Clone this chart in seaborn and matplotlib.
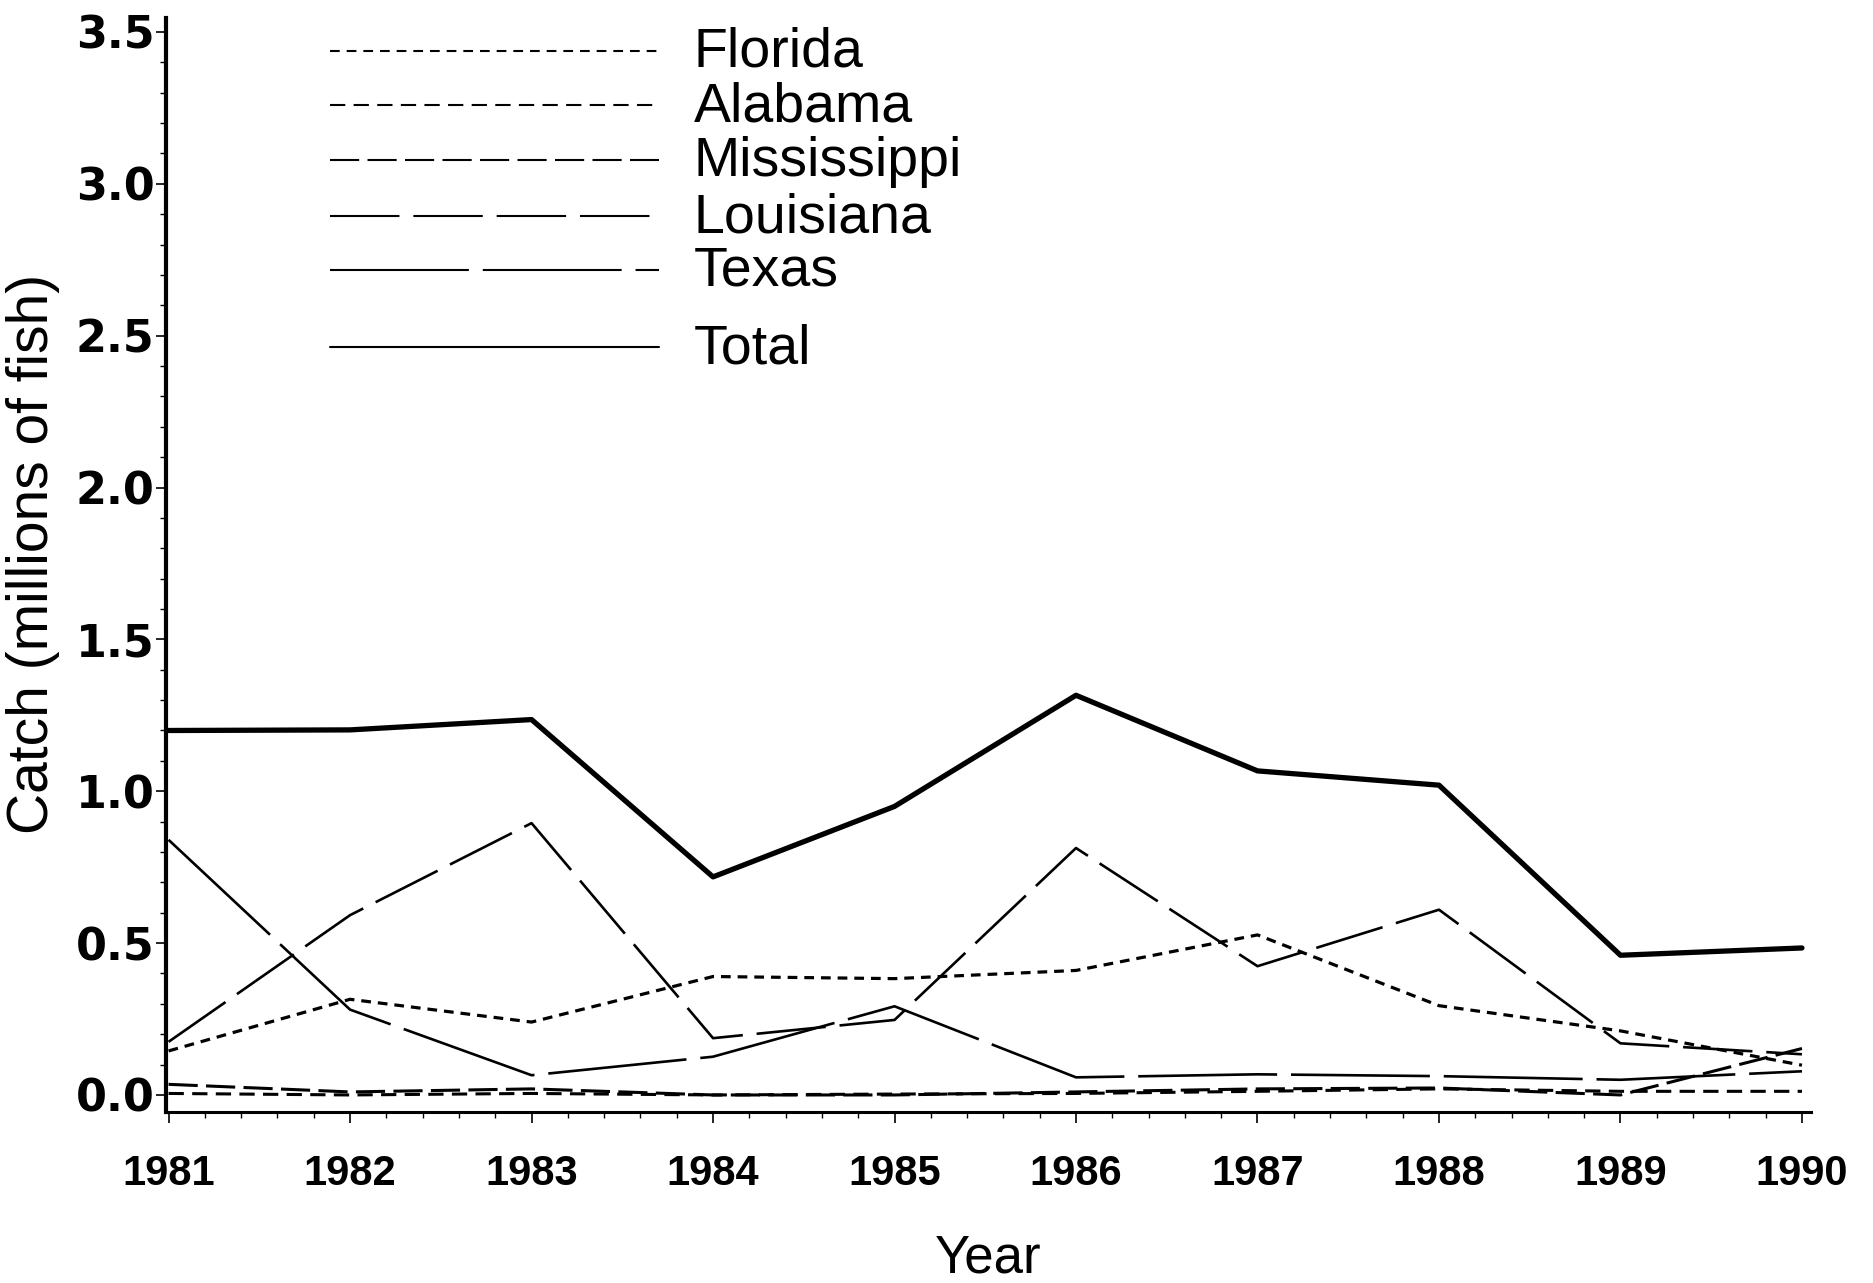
import seaborn as sns
import pandas as pd
import matplotlib.pyplot as plt
from matplotlib.ticker import MultipleLocator

# values (millions of fish)
years = [1981, 1982, 1983, 1984, 1985, 1986, 1987, 1988, 1989, 1990]
florida = [0.145, 0.315, 0.24, 0.39, 0.383, 0.41, 0.527, 0.294, 0.211, 0.098]
alabama = [0.005, 0.0, 0.005, 0.0, 0.003, 0.005, 0.012, 0.02, 0.012, 0.012]
mississippi = [0.035, 0.01, 0.02, 0.0, 0.0, 0.01, 0.02, 0.023, 0.0, 0.153]
louisiana = [0.175, 0.592, 0.895, 0.187, 0.247, 0.813, 0.424, 0.61, 0.17, 0.134]
texas = [0.84, 0.281, 0.065, 0.126, 0.292, 0.058, 0.068, 0.062, 0.05, 0.078]
total = [1.2, 1.202, 1.236, 0.718, 0.95, 1.316, 1.067, 1.02, 0.46, 0.484]

names = ["Florida", "Alabama", "Mississippi", "Louisiana", "Texas", "Total"]
series = [florida, alabama, mississippi, louisiana, texas, total]

# long-form table for seaborn
df = pd.concat([pd.DataFrame({"Year": years, "Catch": vals, "State": name})
                for name, vals in zip(names, series)], ignore_index=True)

# dash patterns in points (not scaled by line width), widths of the plotted lines
dash = {"Florida": (0, (7, 5)), "Alabama": (0, (11, 6)), "Mississippi": (0, (21, 6)),
        "Louisiana": (0, (50, 10)), "Texas": (0, (100, 10)), "Total": "-"}
width = {"Florida": 2.3, "Alabama": 2.2, "Mississippi": 2.2,
         "Louisiana": 1.9, "Texas": 1.9, "Total": 3.8}
# legend rows, axes fraction (Total sits a bit further down)
legend_y = {"Florida": 0.970, "Alabama": 0.920, "Mississippi": 0.870,
            "Louisiana": 0.819, "Texas": 0.770, "Total": 0.699}

sns.set_style("ticks")
plt.rcParams["font.family"] = ["Liberation Sans", "DejaVu Sans"]
plt.rcParams["lines.scale_dashes"] = False
plt.rcParams["text.color"] = "black"
plt.rcParams["axes.labelcolor"] = "black"
plt.rcParams["xtick.color"] = "black"
plt.rcParams["ytick.color"] = "black"
plt.rcParams["axes.edgecolor"] = "black"

fig = plt.figure(figsize=(18.74, 12.83), dpi=100)
ax = fig.add_axes([0.0885, 0.1333, 0.8779, 0.8527])

for name in names:
    sns.lineplot(data=df[df["State"] == name], x="Year", y="Catch", ax=ax,
                 color="black", linewidth=width[name], linestyle=dash[name],
                 legend=False)
    # hand-made legend entry
    ax.plot([0.100, 0.300], [legend_y[name]] * 2, transform=ax.transAxes,
            color="black", linewidth=1.5, linestyle=dash[name])
    ax.text(0.321, legend_y[name] - 0.002, name, transform=ax.transAxes,
            fontsize=40, va="center", ha="left", color="black")

ax.set_xlim(1980.985, 1990.05)
ax.set_ylim(-0.056, 3.546)
ax.set_xticks(years)
ax.set_yticks([0, 0.5, 1.0, 1.5, 2.0, 2.5, 3.0, 3.5])
ax.set_yticklabels(["0.0", "0.5", "1.0", "1.5", "2.0", "2.5", "3.0", "3.5"])
ax.xaxis.set_minor_locator(MultipleLocator(0.2))
ax.yaxis.set_minor_locator(MultipleLocator(0.1))

ax.tick_params(axis="both", which="major", direction="out", length=7, width=1.2)
ax.tick_params(axis="both", which="minor", direction="out", length=4.5, width=1.0)
ax.tick_params(axis="x", which="major", length=8, pad=22)
ax.tick_params(axis="y", which="major", pad=1)
for lab in ax.get_xticklabels():
    lab.set_fontsize(30)
    lab.set_fontweight("bold")
for lab in ax.get_yticklabels():
    lab.set_fontsize(32)
    lab.set_fontweight("bold")
    lab.set_family("DejaVu Sans")

sns.despine(ax=ax)
ax.spines["left"].set_linewidth(3.0)
ax.spines["bottom"].set_linewidth(2.2)

ax.set_xlabel("Year", fontsize=38, va="center")
ax.set_ylabel("Catch (millions of fish)", fontsize=41, va="center")
ax.xaxis.set_label_coords(0.5, -0.1335)
ax.yaxis.set_label_coords(-0.081, 0.51)

plt.savefig("out.png", dpi=100)
